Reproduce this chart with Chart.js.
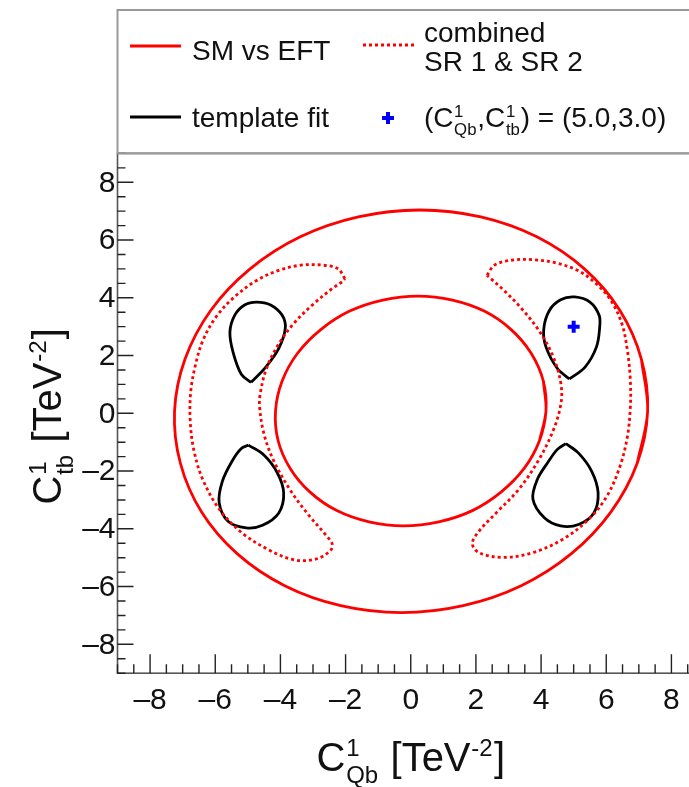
<!DOCTYPE html>
<html lang="en">
<head>
<meta charset="UTF-8">
<title>C1Qb vs C1tb contours</title>
<script src="https://cdn.jsdelivr.net/npm/chart.js"></script>
<style>
  html, body { margin: 0; padding: 0; background: #fff; overflow: hidden; }
  #plot { display: block; }
</style>
</head>
<body>
<canvas id="plot" width="720" height="787"></canvas>
<script>
// axis range and tick labels
const axisMin = -9, axisMax = 9;
const xTickLabels = [-8, -6, -4, -2, 0, 2, 4, 6, 8];
const yTickLabels = [-8, -6, -4, -2, 0, 2, 4, 6, 8];

// SM vs EFT (solid red), outer and inner rings
const smOuter = [
  [7.27, 0.07], [7.08, 1.87], [6.42, 3.56], [5.33, 5.0], [3.87, 6.11], [2.15, 6.8],
  [0.28, 7.04], [-1.61, 6.8], [-3.39, 6.11], [-4.93, 5.0], [-6.14, 3.56], [-6.93, 1.87],
  [-7.25, 0.07], [-7.07, -1.73], [-6.42, -3.42], [-5.33, -4.86], [-3.87, -5.97], [-2.15, -6.66],
  [-0.28, -6.9], [1.61, -6.66], [3.39, -5.97], [4.93, -4.86], [6.14, -3.42], [6.95, -1.73]
];
const smInner = [
  [4.15, 0.08], [4.07, 1.11], [3.7, 2.07], [3.09, 2.89], [2.27, 3.53], [1.28, 3.92],
  [0.22, 4.06], [-0.86, 3.92], [-1.89, 3.53], [-2.77, 2.89], [-3.48, 2.07], [-3.95, 1.11],
  [-4.15, 0.08], [-4.07, -0.95], [-3.7, -1.91], [-3.09, -2.73], [-2.27, -3.37], [-1.28, -3.76],
  [-0.22, -3.9], [0.86, -3.76], [1.89, -3.37], [2.77, -2.73], [3.48, -1.91], [3.95, -0.95]
];

// combined SR 1 & SR 2 (dotted red), left and right crescents
const combLeft = [
  [-2.02, 4.66], [-2.24, 5.01], [-2.7, 5.13], [-3.37, 5.13], [-4.05, 4.95], [-4.73, 4.6],
  [-5.41, 4.03], [-5.98, 3.33], [-6.38, 2.52], [-6.6, 1.71], [-6.75, 0.78], [-6.77, -0.23],
  [-6.66, -1.26], [-6.38, -2.3], [-5.87, -3.33], [-5.19, -4.13], [-4.39, -4.71], [-3.6, -5.07],
  [-2.92, -5.05], [-2.47, -4.76], [-2.41, -4.53], [-2.58, -4.25], [-3.15, -3.5], [-3.71, -2.64],
  [-4.22, -1.61], [-4.51, -0.69], [-4.64, 0.23], [-4.62, 0.67], [-4.45, 1.48], [-4.11, 2.29],
  [-3.6, 3.1], [-2.98, 3.79], [-2.41, 4.32], [-2.11, 4.55]
];
const combRight = [
  [2.34, 4.78], [2.57, 5.13], [3.08, 5.3], [3.76, 5.32], [4.44, 5.21], [5.12, 4.95],
  [5.69, 4.49], [6.14, 3.91], [6.48, 3.1], [6.65, 2.17], [6.74, 1.13], [6.74, 0.23],
  [6.65, -0.8], [6.42, -1.84], [6.02, -2.87], [5.46, -3.67], [4.67, -4.36], [3.76, -4.82],
  [2.85, -4.99], [2.12, -4.84], [1.89, -4.53], [2.06, -4.13], [2.63, -3.44], [3.31, -2.64],
  [3.93, -1.61], [4.38, -0.57], [4.61, 0.34], [4.61, 1.01], [4.38, 1.94], [3.93, 2.87],
  [3.36, 3.68], [2.8, 4.32], [2.46, 4.66]
];

// template fit (solid black), four islands, each starting at its pointed end
const fitUpLeft = [
  [-4.9, 1.07], [-5.2, 1.35], [-5.45, 2.1], [-5.55, 2.81], [-5.4, 3.4], [-5.1, 3.75],
  [-4.73, 3.85], [-4.3, 3.75], [-3.95, 3.4], [-3.85, 2.95], [-4.05, 2.25], [-4.45, 1.6]
];
const fitUpRight = [
  [4.87, 1.19], [4.5, 1.55], [4.15, 2.3], [4.08, 2.9], [4.25, 3.55], [4.6, 3.93],
  [5.03, 4.03], [5.5, 3.85], [5.78, 3.4], [5.8, 3.0], [5.7, 2.3], [5.35, 1.6]
];
const fitDownLeft = [
  [-4.98, -1.1], [-4.5, -1.45], [-4.1, -2.05], [-3.9, -2.75], [-4.05, -3.45], [-4.55, -3.88],
  [-5.05, -3.97], [-5.6, -3.75], [-5.88, -3.1], [-5.78, -2.35], [-5.48, -1.65], [-5.2, -1.22]
];
const fitDownRight = [
  [4.76, -1.05], [5.15, -1.38], [5.55, -2.0], [5.75, -2.75], [5.62, -3.45], [5.15, -3.85],
  [4.6, -3.9], [4.1, -3.62], [3.75, -2.98], [3.88, -2.3], [4.22, -1.68], [4.5, -1.25]
];

// injected point
const truthX = [5.0];
const truthY = [3.0];

const FONT = '"Liberation Sans", Arial, Helvetica, sans-serif';
const INK = '#111';

function toXY(p) {
    return { x: p[0], y: p[1] };
}

// closes the curve at its first point (keeps a corner there)
function closed(pts) {
    const out = pts.map(toXY);
    out.push(toXY(pts[0]));
    return out;
}

// closes the curve without a corner: wraps one point on each side
function closedSmooth(pts) {
    const n = pts.length;
    return [pts[n - 1]].concat(pts, [pts[0], pts[1]]).map(toXY);
}

function contour(data, color, dash) {
    return {
        data: data,
        showLine: true,
        borderColor: color,
        borderWidth: 2.8,
        borderDash: dash || [],
        pointRadius: 0,
        tension: 0.35,
        fill: false
    };
}

// text with stacked super/subscripts, ROOT style
function drawRich(ctx, parts, x, y, size, align) {
    const small = size * 0.6;
    const widths = parts.map(p => {
        if (typeof p === 'string') {
            ctx.font = size + 'px ' + FONT;
            return ctx.measureText(p).width;
        }
        ctx.font = small + 'px ' + FONT;
        const a = p.sup ? ctx.measureText(p.sup).width : 0;
        const b = p.sub ? ctx.measureText(p.sub).width : 0;
        return Math.max(a, b) + size * 0.05;
    });
    const total = widths.reduce((s, w) => s + w, 0);
    let cx = align === 'center' ? x - total / 2 : x;
    ctx.textAlign = 'left';
    ctx.textBaseline = 'alphabetic';
    parts.forEach((p, i) => {
        if (typeof p === 'string') {
            ctx.font = size + 'px ' + FONT;
            ctx.fillText(p, cx, y);
        } else {
            ctx.font = small + 'px ' + FONT;
            if (p.sup) ctx.fillText(p.sup, cx + size * 0.02, y - size * 0.37);
            if (p.sub) ctx.fillText(p.sub, cx + size * 0.02, y + size * 0.3);
        }
        cx += widths[i];
    });
}

const rootFrame = {
    id: 'rootFrame',
    afterDraw(chart) {
        const ctx = chart.ctx;
        const xs = chart.scales.x, ys = chart.scales.y;
        const a = chart.chartArea;
        ctx.save();

        // frame
        ctx.strokeStyle = '#555';
        ctx.lineWidth = 1.6;
        ctx.strokeRect(a.left, a.top, a.right - a.left, a.bottom - a.top);

        // inward ticks
        ctx.strokeStyle = '#222';
        ctx.lineWidth = 1.4;
        ctx.beginPath();
        for (let v = axisMin; v <= axisMax + 1e-6; v += 0.5) {
            const major = Math.abs(v % 2) < 1e-6;
            const px = xs.getPixelForValue(v);
            ctx.moveTo(px, a.bottom);
            ctx.lineTo(px, a.bottom - (major ? 19 : 9));
            const py = ys.getPixelForValue(v);
            ctx.moveTo(a.left, py);
            ctx.lineTo(a.left + (major ? 16 : 8), py);
        }
        ctx.stroke();

        // tick labels
        ctx.fillStyle = INK;
        ctx.font = '30px ' + FONT;
        ctx.textAlign = 'center';
        ctx.textBaseline = 'top';
        xTickLabels.forEach(v => {
            ctx.fillText(v < 0 ? '\u2013' + (-v) : String(v), xs.getPixelForValue(v), a.bottom + 13);
        });
        ctx.textAlign = 'right';
        ctx.textBaseline = 'middle';
        yTickLabels.forEach(v => {
            ctx.fillText(v < 0 ? '\u2013' + (-v) : String(v), a.left - 2, ys.getPixelForValue(v) + 1);
        });

        // axis titles
        const xMid = (xs.getPixelForValue(axisMin) + xs.getPixelForValue(axisMax)) / 2;
        drawRich(ctx, ['C', { sup: '1', sub: 'Qb' }, ' [TeV', { sup: '-2' }, ']'], xMid, 771, 40, 'center');
        const yMid = (ys.getPixelForValue(axisMin) + ys.getPixelForValue(axisMax)) / 2;
        ctx.save();
        ctx.translate(61, yMid + 3);
        ctx.rotate(-Math.PI / 2);
        drawRich(ctx, ['C', { sup: '1', sub: 'tb' }, ' [TeV', { sup: '-2' }, ']'], 0, 0, 40, 'center');
        ctx.restore();

        // legend box
        ctx.strokeStyle = '#999';
        ctx.lineWidth = 2;
        ctx.strokeRect(a.left, 10, a.right - a.left, a.top - 10);

        ctx.lineWidth = 3;
        ctx.strokeStyle = '#ff0000';
        ctx.beginPath(); ctx.moveTo(130, 46); ctx.lineTo(181, 46); ctx.stroke();
        ctx.setLineDash([3, 3]);
        ctx.beginPath(); ctx.moveTo(363, 45); ctx.lineTo(415, 45); ctx.stroke();
        ctx.setLineDash([]);
        ctx.strokeStyle = '#000';
        ctx.beginPath(); ctx.moveTo(130, 117); ctx.lineTo(181, 117); ctx.stroke();
        ctx.strokeStyle = '#0000ff';
        ctx.lineWidth = 4;
        ctx.beginPath();
        ctx.moveTo(382, 118); ctx.lineTo(394, 118);
        ctx.moveTo(388, 112); ctx.lineTo(388, 124);
        ctx.stroke();

        ctx.fillStyle = INK;
        ctx.font = '28px ' + FONT;
        ctx.textAlign = 'left';
        ctx.textBaseline = 'alphabetic';
        ctx.fillText('SM vs EFT', 192, 60);
        ctx.fillText('template fit', 192, 127);
        ctx.fillText('combined', 424, 42);
        ctx.fillText('SR 1 & SR 2', 424, 71);
        drawRich(ctx, ['(C', { sup: '1', sub: 'Qb' }, ',C', { sup: '1', sub: 'tb' }, ') = (5.0,3.0)'], 424, 127, 28, 'left');

        ctx.restore();
    }
};

new Chart(document.getElementById('plot'), {
    type: 'scatter',
    data: {
        datasets: [
            contour(closedSmooth(smOuter), '#ff0000'),
            contour(closedSmooth(smInner), '#ff0000'),
            contour(closed(combLeft), '#ff0000', [3, 3]),
            contour(closed(combRight), '#ff0000', [3, 3]),
            contour(closed(fitUpLeft), '#000000'),
            contour(closed(fitUpRight), '#000000'),
            contour(closed(fitDownLeft), '#000000'),
            contour(closed(fitDownRight), '#000000'),
            {
                data: truthX.map((x, i) => ({ x: x, y: truthY[i] })),
                showLine: false,
                pointStyle: 'cross',
                pointRadius: 6,
                borderColor: '#0000ff',
                borderWidth: 4
            }
        ]
    },
    options: {
        responsive: false,
        animation: false,
        layout: { padding: { left: 117.5, top: 153.4, right: 16, bottom: 113.8 } },
        scales: {
            x: { type: 'linear', min: axisMin, max: axisMax, display: false },
            y: { type: 'linear', min: axisMin, max: axisMax, display: false }
        },
        plugins: {
            legend: { display: false },
            tooltip: { enabled: false }
        }
    },
    plugins: [rootFrame]
});
</script>
</body>
</html>
